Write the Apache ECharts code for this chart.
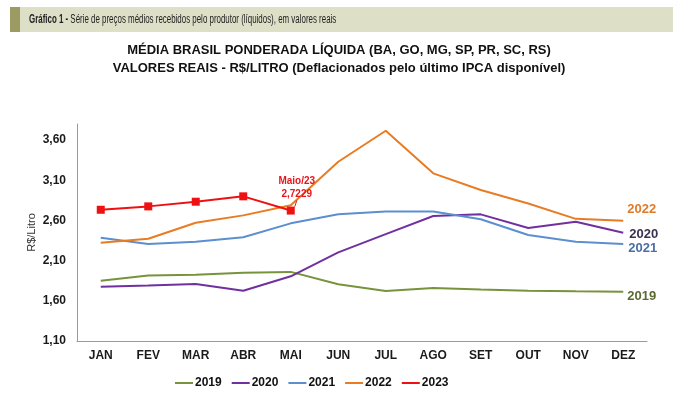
<!DOCTYPE html>
<html><head><meta charset="utf-8">
<script src="https://cdn.jsdelivr.net/npm/echarts@6/dist/echarts.min.js"></script>
<style>html,body{margin:0;padding:0;background:#fff}#c{width:688px;height:397px}</style>
</head><body><div id="c"></div>
<script>
const months = ['JAN','FEV','MAR','ABR','MAI','JUN','JUL','AGO','SET','OUT','NOV','DEZ'];
const s2019 = [1.85,1.915,1.925,1.95,1.96,1.805,1.722,1.76,1.74,1.725,1.718,1.713];
const s2020 = [1.775,1.79,1.81,1.726,1.905,2.203,2.43,2.655,2.676,2.505,2.584,2.447];
const s2021 = [2.385,2.307,2.335,2.39,2.564,2.676,2.71,2.71,2.614,2.418,2.335,2.307];
const s2022 = [2.323,2.372,2.571,2.663,2.79,3.33,3.716,3.186,2.978,2.81,2.62,2.596];
const s2023 = [2.733,2.775,2.833,2.90,2.7229];

const chart = echarts.init(document.getElementById('c'));
const FF = 'Liberation Sans, Arial, sans-serif';
const bold = {fontFamily:FF, fontWeight:'bold', fontSize:12, color:'#1a1a1a'};
function endLbl(color, off){
  return {show:true, formatter:'{a}', color:color, fontFamily:FF, fontWeight:'bold', fontSize:13, offset:off, distance:4};
}
const d2023 = s2023.map((v,i)=> i===4 ? {
  value:v,
  label:{show:true, position:'top', formatter:'Maio/' + '23\n' + v.toFixed(4).replace('.',','), color:'#e8141c',
    fontFamily:FF, fontWeight:'bold', fontSize:10, lineHeight:13, distance:4},
  labelLine:{show:true, lineStyle:{color:'#e8141c', width:1}}
} : v);

chart.setOption({
  animation:false,
  textStyle:{fontFamily:FF},
  graphic:[
    {type:'rect', shape:{x:10,y:7,width:663,height:25}, style:{fill:'#dedfc7'}},
    {type:'rect', shape:{x:10,y:7,width:10,height:25}, style:{fill:'#9c9c62'}},
    {type:'text', x:29, y:19.5, scaleX:0.66, style:{text:'{b|Gráfico 1 -} Série de preços médios recebidos pelo produtor (líquidos), em valores reais',
      verticalAlign:'middle', fontFamily:FF, fontSize:12, fill:'#222',
      rich:{b:{fontWeight:'bold', fontFamily:FF, fontSize:12, fill:'#222'}}}}
  ],
  title:{
    text:'MÉDIA BRASIL PONDERADA LÍQUIDA (BA, GO, MG, SP, PR, SC, RS)\nVALORES REAIS - R$/LITRO (Deflacionados pelo último IPCA disponível)',
    left:334, top:36, textAlign:'center',
    textStyle:{fontFamily:FF, fontWeight:'bold', fontSize:13, lineHeight:18, color:'#111'}
  },
  legend:{
    left:170, top:372, itemWidth:18, itemHeight:2, itemGap:10, icon:'rect',
    textStyle:{fontFamily:FF, fontWeight:'bold', fontSize:12, color:'#111', padding:[0,0,0,-3]},
    data:['2019','2020','2021','2022','2023']
  },
  grid:{left:77, right:41, top:124, bottom:56},
  xAxis:{
    type:'category', data:months, boundaryGap:true,
    axisLine:{lineStyle:{color:'#9a9a9a', width:1}},
    axisTick:{inside:true, length:4, lineStyle:{color:'#9a9a9a'}},
    axisLabel:Object.assign({margin:9}, bold)
  },
  yAxis:{
    type:'value', min:1.1, max:3.8, interval:0.5,
    name:'R$/Litro', nameLocation:'middle', nameRotate:90, nameGap:40, nameMoveOverlap:false,
    nameTextStyle:{fontFamily:FF, fontSize:11, color:'#333'},
    splitLine:{show:false},
    axisLine:{show:true, lineStyle:{color:'#9a9a9a'}},
    axisTick:{show:false},
    axisLabel:Object.assign({margin:11, showMaxLabel:false, formatter:v=>v.toFixed(2).replace('.',',')}, bold)
  },
  series:[
    {name:'2019', type:'line', data:s2019, symbol:'none', color:'#77933c', lineStyle:{width:2},
      endLabel:endLbl('#5a6a30',[0,5])},
    {name:'2020', type:'line', data:s2020, symbol:'none', color:'#7030a0', lineStyle:{width:2},
      endLabel:endLbl('#3a3150',[2,2])},
    {name:'2021', type:'line', data:s2021, symbol:'none', color:'#5b8fd0', lineStyle:{width:2},
      endLabel:endLbl('#4a6ea6',[1,4])},
    {name:'2022', type:'line', data:s2022, symbol:'none', color:'#e87c25', lineStyle:{width:2},
      endLabel:endLbl('#e07b2a',[0,-11])},
    {name:'2023', type:'line', data:d2023, symbol:'rect', symbolSize:8, showAllSymbol:true, color:'#ee1111', lineStyle:{width:2}, z:5,
      labelLayout:{dx:6, dy:-2}}
  ]
});
</script></body></html>
